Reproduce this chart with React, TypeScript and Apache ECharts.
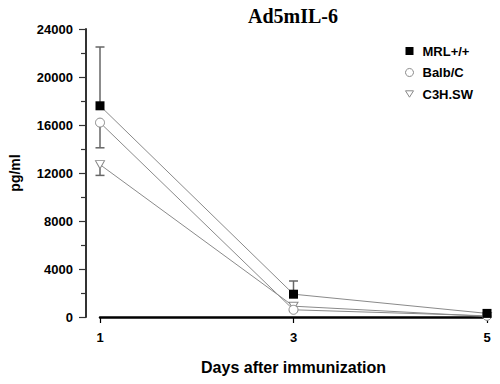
import React, { useEffect, useRef } from "react";
import * as echarts from "echarts";

const titleText = "Ad5mIL-6";
const days = [1, 3, 5];
const seriesNames = ["MRL+/+", "Balb/C", "C3H.SW"];
const mrlValues = [17600, 1900, 300];
const balbValues = [16200, 600, 100];
const c3hValues = [12700, 900, 50];
// error bar end points (one-sided, as drawn in the figure)
const mrlErrEnd = [22500, 3000, 300];
const balbErrEnd = [14100, 600, 100];
const c3hErrEnd = [11800, 900, 50];
const yTicks = [0, 4000, 8000, 12000, 16000, 20000, 24000];

const LINE_COLOR = "#8a8a8a";
const ERR_COLOR = "#666666";

export default function App() {
  const ref = useRef<HTMLDivElement>(null);
  useEffect(() => {
    if (!ref.current) return;
    const chart = echarts.init(ref.current, undefined, { renderer: "svg" });

    const toPts = (vals: number[]) => days.map((d, i) => [d, vals[i]]);
    const errData = (vals: number[], ends: number[]) =>
      days.map((d, i) => [d, vals[i], ends[i]]);

    const renderErr = (params: any, api: any) => {
      const x = api.value(0);
      const y0 = api.value(1);
      const y1 = api.value(2);
      if (y0 === y1) return { type: "group", children: [] };
      const p0 = api.coord([x, y0]);
      const p1 = api.coord([x, y1]);
      const hw = 4.5;
      return {
        type: "group",
        children: [
          {
            type: "line",
            shape: { x1: p0[0], y1: p0[1], x2: p1[0], y2: p1[1] },
            style: { stroke: ERR_COLOR, lineWidth: 1.5 },
          },
          {
            type: "line",
            shape: { x1: p1[0] - hw, y1: p1[1], x2: p1[0] + hw, y2: p1[1] },
            style: { stroke: ERR_COLOR, lineWidth: 1.5 },
          },
        ],
      };
    };

    const triPath = "path://M0,0 L10,0 L5,8 Z";

    chart.setOption({
      animation: false,
      backgroundColor: "#ffffff",
      title: {
        text: titleText,
        left: 243,
        top: 1,
        textStyle: {
          fontFamily: "Liberation Serif",
          fontWeight: "bold",
          fontSize: 20,
          color: "#000",
        },
      },
      legend: {
        orient: "vertical",
        left: 400,
        top: 39,
        itemWidth: 8,
        itemHeight: 8,
        itemGap: 7.5,
        textStyle: {
          fontFamily: "Liberation Sans",
          fontWeight: "bold",
          fontSize: 13,
          color: "#000",
          lineHeight: 14,
          padding: [0, 0, 0, 4],
        },
        data: [
          { name: seriesNames[0], icon: "rect", itemStyle: { color: "#000", borderWidth: 0 } },
          { name: seriesNames[1], icon: "circle", itemStyle: { color: "#fff", borderColor: "#888", borderWidth: 1 } },
          { name: seriesNames[2], icon: triPath, itemStyle: { color: "#fff", borderColor: "#888", borderWidth: 1 } },
        ],
      },
      grid: { left: 90, right: 13, top: 29, bottom: 67 },
      xAxis: {
        type: "value",
        min: 1,
        max: 5,
        interval: 2,
        name: "Days after immunization",
        nameLocation: "middle",
        nameGap: 42,
        nameTextStyle: {
          fontFamily: "Liberation Sans",
          fontWeight: "bold",
          fontSize: 16,
          color: "#000",
        },
        axisLine: { show: true, onZero: false, lineStyle: { color: "#000", width: 2.5 } },
        axisTick: { show: true, length: 6, lineStyle: { color: "#000", width: 1.2 } },
        axisLabel: {
          margin: 14,
          fontFamily: "Liberation Sans",
          fontWeight: "bold",
          fontSize: 13,
          color: "#000",
        },
        splitLine: { show: false },
      },
      yAxis: {
        type: "value",
        min: yTicks[0],
        max: yTicks[yTicks.length - 1],
        interval: 4000,
        offset: 14,
        name: "pg/ml",
        nameLocation: "middle",
        nameGap: 64,
        nameRotate: 90,
        nameTextStyle: {
          fontFamily: "Liberation Sans",
          fontWeight: "bold",
          fontSize: 14,
          color: "#000",
        },
        axisLine: { show: true, lineStyle: { color: "#333", width: 2 } },
        axisTick: { show: true, length: 7, lineStyle: { color: "#333", width: 1.2 } },
        minorTick: { show: true, splitNumber: 2, length: 5, lineStyle: { color: "#333", width: 1.2 } },
        axisLabel: {
          margin: 13,
          fontFamily: "Liberation Sans",
          fontWeight: "bold",
          fontSize: 13,
          color: "#000",
          formatter: (v: number) => String(v),
        },
        splitLine: { show: false },
      },
      series: [
        {
          name: "err-mrl",
          type: "custom",
          renderItem: renderErr,
          data: errData(mrlValues, mrlErrEnd),
          z: 1,
          silent: true,
        },
        {
          name: "err-balb",
          type: "custom",
          renderItem: renderErr,
          data: errData(balbValues, balbErrEnd),
          z: 1,
          silent: true,
        },
        {
          name: "err-c3h",
          type: "custom",
          renderItem: renderErr,
          data: errData(c3hValues, c3hErrEnd),
          z: 1,
          silent: true,
        },
        {
          name: seriesNames[2],
          type: "line",
          data: toPts(c3hValues),
          symbol: triPath,
          symbolSize: [9, 8],
          lineStyle: { color: LINE_COLOR, width: 1 },
          itemStyle: { color: "#fff", borderColor: "#888", borderWidth: 1 },
          z: 2,
        },
        {
          name: seriesNames[1],
          type: "line",
          data: toPts(balbValues),
          symbol: "circle",
          symbolSize: 9,
          lineStyle: { color: LINE_COLOR, width: 1 },
          itemStyle: { color: "#fff", borderColor: "#888", borderWidth: 1 },
          z: 3,
        },
        {
          name: seriesNames[0],
          type: "line",
          data: toPts(mrlValues),
          symbol: "rect",
          symbolSize: 9,
          lineStyle: { color: LINE_COLOR, width: 1 },
          itemStyle: { color: "#000", borderWidth: 0 },
          z: 4,
        },
      ],
    });
    return () => chart.dispose();
  }, []);
  return (
    <div
      ref={ref}
      style={{ position: "fixed", left: 0, top: 0, width: 500, height: 384, background: "#fff" }}
    />
  );
}
